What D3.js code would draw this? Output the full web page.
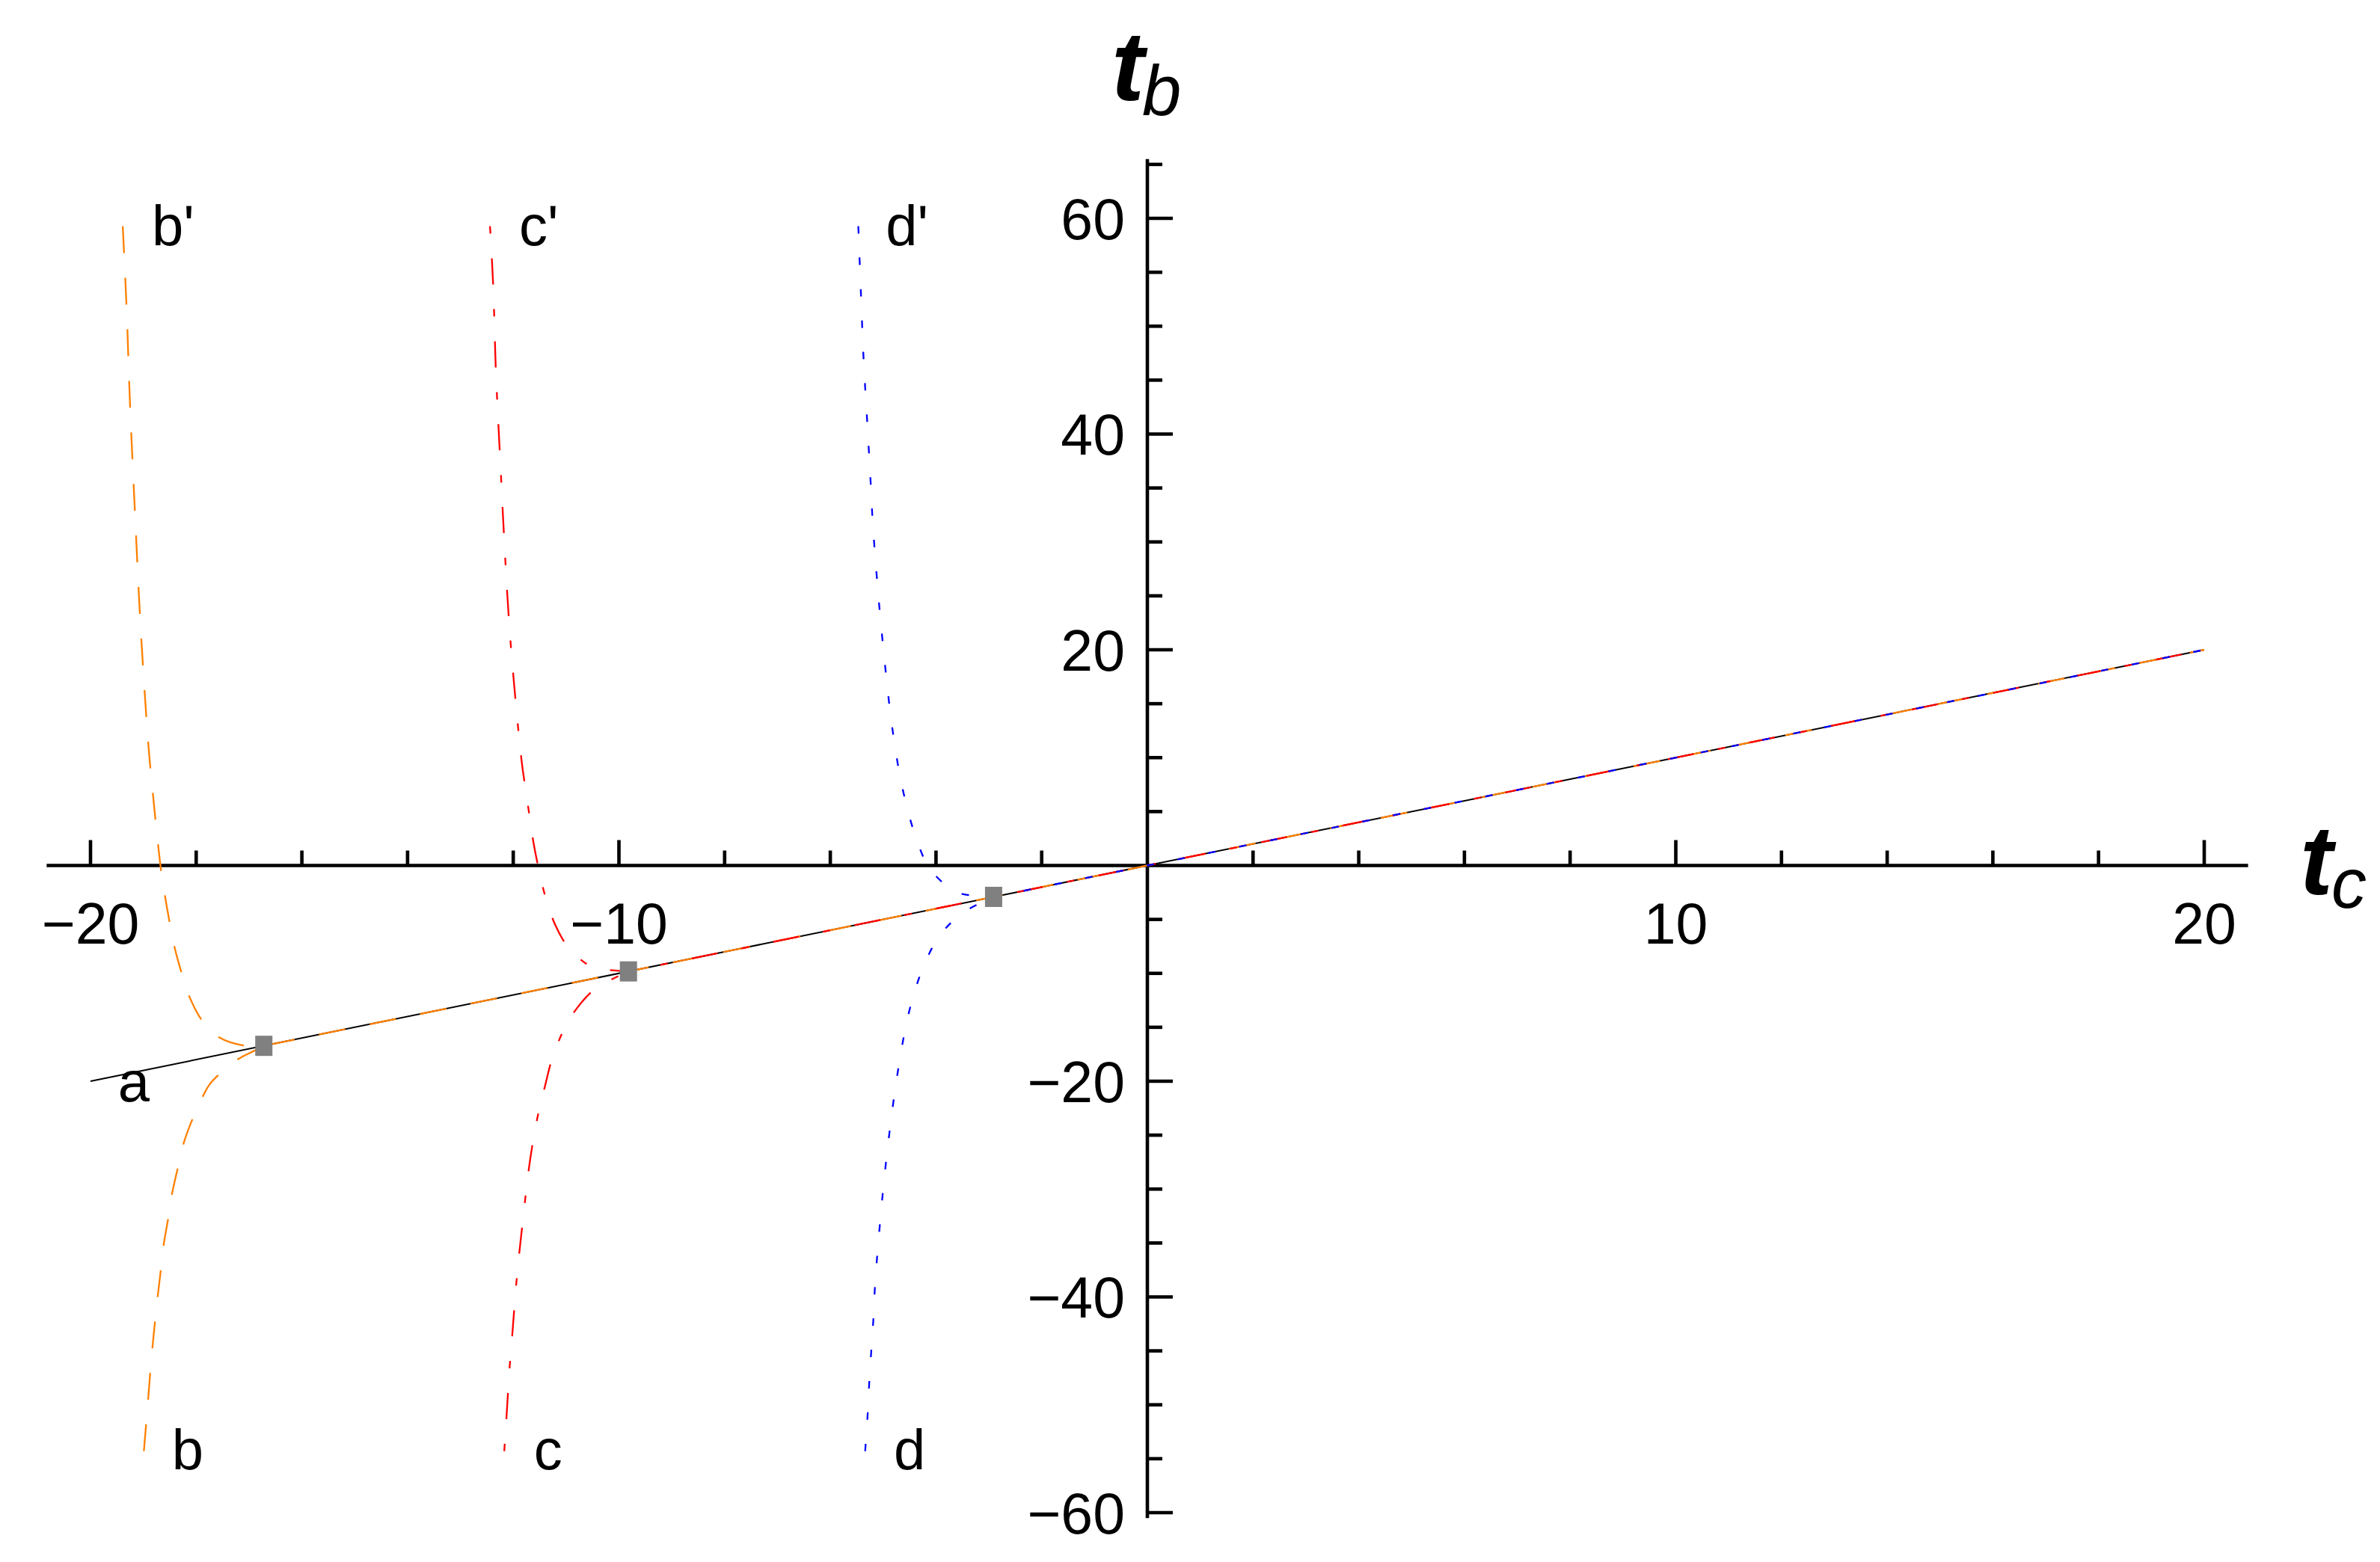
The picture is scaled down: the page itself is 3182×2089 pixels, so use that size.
<!DOCTYPE html>
<html>
<head>
<meta charset="utf-8">
<script src="https://cdn.jsdelivr.net/npm/d3@7"></script>
<style>
  html, body { margin: 0; padding: 0; background: #fff; }
  svg { display: block; }
</style>
</head>
<body>
<script>
// ---------- data ----------
const xMajorTicks = [-20, -10, 10, 20];
const xMinorTicks = [-18, -16, -14, -12, -8, -6, -4, -2, 2, 4, 6, 8, 12, 14, 16, 18];
const yMajorTicks = [-60, -40, -20, 20, 40, 60];
const yMinorTicks = [-55, -50, -45, -35, -30, -25, -15, -10, -5, 5, 10, 15, 25, 30, 35, 45, 50, 55, 65];
const xTickLabels = ["\u221220", "\u221210", "10", "20"];
const yTickLabels = ["\u221260", "\u221240", "\u221220", "20", "40", "60"];

// line a : t_b = t_c
const lineA = [[-20, -20], [20, 20]];
const lineEnd = [20, 20];

// meeting points (grey squares)
const meetPoints = [[-16.72, -16.72], [-9.82, -9.82], [-2.91, -2.91]];

// curve b (orange, dashed)
const bUpper = [[-19.39,59.27],[-19.32,52.03],[-19.25,42.49],[-19.16,32.85],[-19.05,21.98],[-18.90,10.89],[-18.82,6.66],[-18.72,1.87],[-18.66,-0.62],[-18.59,-2.84],[-18.50,-5.34],[-18.41,-7.56],[-18.27,-10.06],[-18.13,-12.14],[-17.89,-14.36],[-17.56,-15.95],[-17.08,-16.71]];
const bLower = [[-18.99,-54.3],[-18.91,-49.58],[-18.87,-47.02],[-18.83,-44.80],[-18.78,-42.30],[-18.73,-40.01],[-18.67,-37.52],[-18.62,-35.30],[-18.53,-32.73],[-18.46,-30.51],[-18.35,-28.09],[-18.24,-25.80],[-18.07,-23.51],[-17.87,-21.36],[-17.75,-20.32],[-17.58,-19.42],[-17.21,-17.96],[-16.91,-17.20]];

// curve c (red, dot-dashed)
const cUpper = [[-12.44,59.27],[-12.38,53.81],[-12.33,46.00],[-12.28,40.78],[-12.23,35.97],[-12.20,32.92],[-12.06,21.29],[-11.84,9.62],[-11.77,7.19],[-11.68,4.18],[-11.61,1.92],[-11.51,-0.49],[-11.40,-2.75],[-11.20,-5.57],[-10.94,-7.72],[-10.60,-9.17],[-10.46,-9.50]];
const cLower = [[-12.17,-54.3],[-12.13,-51.32],[-12.07,-46.60],[-12.02,-43.62],[-11.98,-41.05],[-11.93,-38.07],[-11.80,-32.11],[-11.70,-27.95],[-11.56,-23.79],[-11.39,-20.27],[-11.27,-18.01],[-11.04,-15.19],[-10.80,-13.27],[-10.46,-11.49]];

// curve d (blue, dotted)
const dUpper = [[-5.47,59.27],[-5.42,52.96],[-5.37,46.95],[-5.30,41.01],[-5.23,34.93],[-5.20,32.04],[-5.11,26.14],[-5.02,21.29],[-4.87,14.36],[-4.79,11.51],[-4.69,8.51],[-4.56,5.62],[-4.39,2.75],[-4.13,-0.21],[-3.73,-2.17],[-3.61,-2.50],[-3.15,-2.89]];
const dLower = [[-5.34,-54.3],[-5.29,-50.62],[-5.26,-47.64],[-5.22,-44.66],[-5.18,-41.68],[-5.15,-38.63],[-5.04,-32.11],[-4.94,-27.25],[-4.76,-20.32],[-4.57,-14.89],[-4.42,-11.95],[-4.22,-9.17],[-3.93,-6.50],[-3.50,-4.42]];

// curve labels
const curveLabelText = ["b'", "c'", "d'", "a", "b", "c", "d"];
const curveLabelPos = [[-18.84, 57.5], [-11.89, 57.5], [-4.95, 57.5], [-19.48, -21.85], [-18.46, -56.0], [-11.61, -56.0], [-4.80, -56.0]];

// ---------- drawing ----------
const W = 3182, H = 2089;
const x = d3.scaleLinear().domain([-20, 20]).range([121, 2947]);
const y = d3.scaleLinear().domain([-60, 60]).range([2023, 292]);
const xAxisExtent = [-20.83, 20.83];
const yAxisExtent = [-60.5, 65.5];

const svg = d3.select("body").append("svg")
  .attr("width", W).attr("height", H)
  .attr("viewBox", `0 0 ${W} ${H}`);
svg.append("rect").attr("width", W).attr("height", H).attr("fill", "#fff");

const ax = svg.append("g").attr("stroke", "#000").attr("stroke-width", 4.6);
ax.append("line")
  .attr("x1", x(xAxisExtent[0])).attr("x2", x(xAxisExtent[1]))
  .attr("y1", y(0)).attr("y2", y(0));
ax.append("line")
  .attr("x1", x(0)).attr("x2", x(0))
  .attr("y1", y(yAxisExtent[0])).attr("y2", y(yAxisExtent[1]));

ax.selectAll(".xmaj").data(xMajorTicks).join("line")
  .attr("x1", d => x(d)).attr("x2", d => x(d))
  .attr("y1", y(0)).attr("y2", y(0) - 34);
ax.selectAll(".xmin").data(xMinorTicks).join("line")
  .attr("x1", d => x(d)).attr("x2", d => x(d))
  .attr("y1", y(0)).attr("y2", y(0) - 20);
ax.selectAll(".ymaj").data(yMajorTicks).join("line")
  .attr("y1", d => y(d)).attr("y2", d => y(d))
  .attr("x1", x(0)).attr("x2", x(0) + 34);
ax.selectAll(".ymin").data(yMinorTicks).join("line")
  .attr("y1", d => y(d)).attr("y2", d => y(d))
  .attr("x1", x(0)).attr("x2", x(0) + 20);

const fontSans = "'Liberation Sans', Arial, sans-serif";
const tickFS = 77;
svg.selectAll(".xl").data(xMajorTicks).join("text")
  .attr("x", d => x(d)).attr("y", y(0) + 104)
  .attr("text-anchor", "middle")
  .attr("font-family", fontSans).attr("font-size", tickFS)
  .text((d, i) => xTickLabels[i]);
svg.selectAll(".yl").data(yMajorTicks).join("text")
  .attr("x", x(0) - 30).attr("y", d => y(d) + 27.5)
  .attr("text-anchor", "end")
  .attr("font-family", fontSans).attr("font-size", tickFS)
  .text((d, i) => yTickLabels[i]);

// axis titles: bold italic t with italic subscript
function axisTitle(tx, ty, sub, sx, sy) {
  svg.append("text").attr("x", tx).attr("y", ty)
    .attr("font-family", fontSans)
    .attr("font-weight", "bold").attr("font-style", "italic")
    .attr("font-size", 132).text("t");
  svg.append("text").attr("x", sx).attr("y", sy)
    .attr("font-family", fontSans).attr("font-style", "italic")
    .attr("font-size", 94).text(sub);
}
axisTitle(1486, 134, "b", 1527, 154);
axisTitle(3075, 1196, "c", 3117, 1214);

// curves
const lineGen = d3.line().x(d => x(d[0])).y(d => y(d[1])).curve(d3.curveCatmullRom.alpha(0.5));
const straight = d3.line().x(d => x(d[0])).y(d => y(d[1]));

svg.append("path").attr("d", straight(lineA))
  .attr("fill", "none").attr("stroke", "#000").attr("stroke-width", 2);

const series = [
  { upper: bUpper, lower: bLower, m: meetPoints[0], color: "#FF8000", dash: "36,33" },
  { upper: cUpper, lower: cLower, m: meetPoints[1], color: "#FF0000", dash: "10,33,35,33" },
  { upper: dUpper, lower: dLower, m: meetPoints[2], color: "#0000FF", dash: "10,32" }
];
series.forEach(s => {
  const up = lineGen(s.upper.concat([s.m])) + "L" + x(lineEnd[0]) + "," + y(lineEnd[1]);
  const lo = lineGen(s.lower.concat([s.m]));
  [up, lo].forEach(d => {
    svg.append("path").attr("d", d)
      .attr("fill", "none").attr("stroke", s.color).attr("stroke-width", 2.3)
      .attr("stroke-dasharray", s.dash).attr("stroke-linecap", "butt");
  });
});

svg.selectAll(".mk").data(meetPoints).join("rect")
  .attr("x", d => x(d[0]) - 11.5).attr("y", d => y(d[1]) - 13.5)
  .attr("width", 23).attr("height", 27).attr("fill", "#808080");

svg.selectAll(".cl").data(curveLabelPos).join("text")
  .attr("x", d => x(d[0])).attr("y", d => y(d[1]))
  .attr("font-family", fontSans).attr("font-size", 76)
  .text((d, i) => curveLabelText[i]);
</script>
</body>
</html>
